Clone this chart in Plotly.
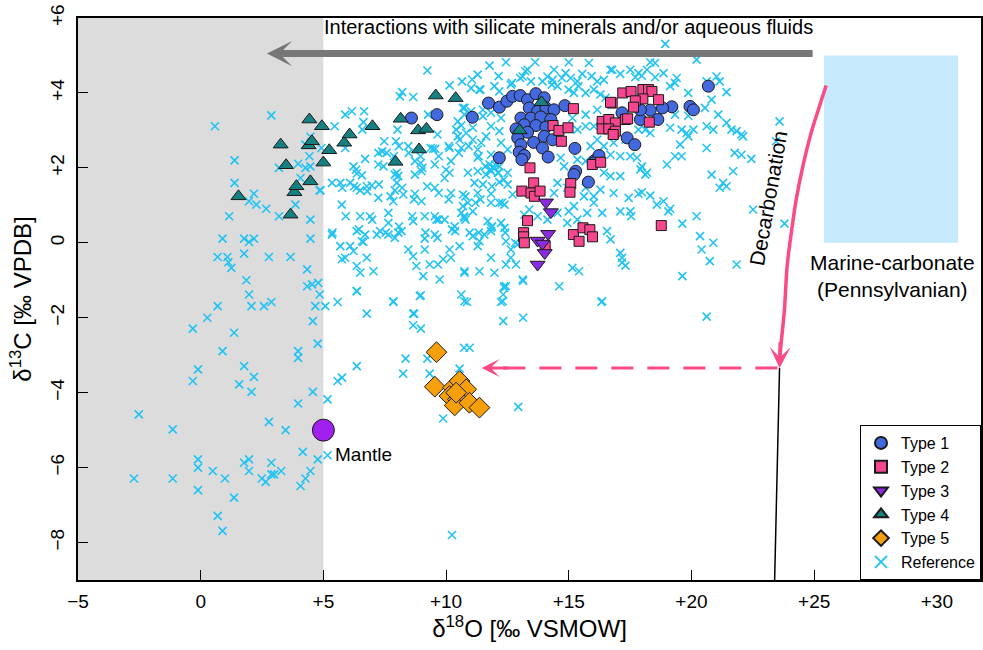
import plotly.graph_objects as go

# ---------------- data ----------------
type1_x = [11.73, 11.07, 12.17, 12.48, 12.71, 13.02, 13.32, 13.66, 14.0, 13.39, 13.73, 14.07, 14.4, 14.84,
           13.05, 13.46, 13.86, 14.27, 13.19, 13.66, 14.07, 12.85, 13.32, 14.0, 14.34, 12.92, 13.05, 13.57,
           13.93, 12.98, 13.19, 13.09, 14.16, 12.17, 15.25, 16.06, 16.23, 15.28, 15.21, 8.59, 9.63, 15.8,
           16.02, 20.69, 19.94, 20.08, 19.2, 18.82, 18.32, 18.63, 17.92, 17.38, 17.69, 17.17, 17.92]
type1_y = [3.73, 3.35, 3.62, 3.78, 3.91, 3.93, 3.82, 3.98, 3.87, 3.6, 3.51, 3.6, 3.55, 3.66,
           3.33, 3.33, 3.36, 3.29, 3.15, 3.13, 3.09, 3.04, 2.95, 2.84, 2.75, 2.8, 2.62, 2.68,
           2.53, 2.42, 2.33, 2.22, 2.29, 2.27, 2.52, 2.2, 2.33, 1.91, 1.82, 3.33, 3.42, 1.62,
           2.13, 4.18, 3.64, 3.55, 3.63, 3.6, 3.54, 3.29, 3.29, 2.8, 2.62, 3.47, 3.55]

type2_x = [15.19, 14.36, 14.6, 14.97, 14.7, 13.42, 17.2, 16.77, 16.36, 16.63, 16.9, 16.36, 16.63, 16.83,
           15.96, 16.3, 17.31, 17.54, 18.02, 18.25, 18.39, 18.02, 17.71, 18.66, 17.64, 17.4, 18.28,
           13.57, 13.09, 13.46, 13.6, 13.83, 15.08, 15.05, 13.32, 13.16, 13.16, 13.19, 15.19, 15.42,
           15.58, 15.86, 15.97, 18.77, 16.7, 16.9, 16.81, 14.04]
type2_y = [3.58, 3.13, 3.0, 3.07, 2.71, 2.0, 4.0, 3.73, 3.24, 3.29, 3.2, 3.04, 3.04, 2.91,
           2.09, 2.15, 3.29, 4.04, 4.09, 4.09, 4.04, 3.84, 3.79, 3.82, 3.62, 3.31, 3.22,
           1.6, 1.38, 1.33, 1.24, 1.38, 1.58, 1.35, 0.59, 0.27, 0.16, 0.0, 0.22, 0.04,
           0.4, 0.35, 0.16, 0.46, 3.75, 2.98, 2.89, -0.09]

type3_x = [14.07, 14.27, 14.16, 13.73, 13.93, 14.02, 13.73]
type3_y = [1.08, 0.82, 0.24, 0.06, -0.02, -0.27, -0.58]

type4_x = [1.54, 3.26, 3.48, 3.66, 3.82, 3.9, 4.43, 4.4, 4.53, 4.47, 4.94, 5.0, 5.24, 5.85, 6.07,
           7.0, 7.94, 8.15, 8.86, 8.9, 9.2, 9.58, 10.39, 13.0, 13.89]
type4_y = [1.24, 2.62, 2.07, 0.75, 1.35, 1.51, 3.29, 2.6, 2.71, 1.64, 3.11, 2.14, 2.47, 2.67, 2.89,
           3.11, 2.16, 3.31, 3.0, 2.49, 3.04, 3.93, 3.86, 3.0, 3.75]

type5_x = [9.61, 9.54, 10.28, 10.55, 10.82, 10.14, 10.48, 10.35, 10.95, 11.36, 10.41]
type5_y = [-2.92, -3.84, -3.87, -3.69, -3.91, -4.09, -4.18, -4.34, -4.27, -4.4, -4.0]

ref_x = [
    # shaded field (< +5)
    0.58, 2.88, 1.38, 1.38, 2.17, 1.97, 2.27, 2.67, 1.16, 3.19, 0.89, 1.77, 2.17, 1.97, 0.69, 1.09, 1.13,
    1.25, 1.77, 2.78, 3.66, 4.47, 4.47, 3.86, 4.85, 4.47, 4.43, 3.97, 4.27, 4.07, 4.47, 4.27, 4.92, 3.19,
    1.86, 1.97, 4.34, 4.79, 4.54, 4.85, 2.07, 2.58, 2.88, 0.69, 0.27, -0.32, 1.36, 0.89, 3.97, 3.97, 4.57,
    4.67, 4.77, -0.11, -0.32, 1.77, 2.17, 1.57, 2.07, 4.57, 3.97, -2.52, -1.14, 2.78, 3.46, 4.16, 4.77,
    -0.11, -0.11, 1.77, 1.97, 1.97, 2.88, 0.49, -2.72, -1.14, 0.99, 2.49, 2.65, 2.88, 2.99, 3.28, 4.47,
    4.27, 4.07, -0.11, 1.36, 0.69, 0.89, 4.34,
    # lower right of +5
    5.17, 5.17, 5.58, 6.36, 6.77, 5.08, 7.85, 8.66, 8.7, 8.66, 8.97, 8.97, 10.62, 10.85, 8.35, 9.24, 8.25,
    9.33, 6.36, 5.58, 5.76, 10.55, 10.73, 10.96, 9.88, 10.24, 12.37, 12.44, 12.33, 12.24, 12.33, 13.14,
    13.14, 14.61, 16.33, 20.62, 12.94,
    # upper left-centre
    9.24, 10.14, 10.65, 8.21, 8.66, 8.12, 10.69, 5.89, 6.16, 6.66, 5.46, 6.63, 6.59, 8.02, 9.27, 9.65,
    10.48, 10.41, 10.62, 10.48, 10.55, 10.14, 10.62, 7.48, 7.58, 7.24, 7.96, 8.46, 9.47, 9.56, 8.73, 8.97,
    9.03, 9.54, 10.2, 10.0, 6.7, 7.24, 7.45, 6.23, 6.33, 5.89, 7.99,
    # centre-left
    5.35, 5.69, 6.09, 4.88, 6.36, 6.77, 6.97, 6.5, 6.36, 6.57, 7.24, 7.91, 8.05, 7.99, 7.91, 7.85, 8.26,
    8.73, 9.0, 8.73, 9.0, 9.54, 9.94, 10.14, 10.2, 5.75, 6.5, 6.9, 7.65, 7.65, 8.66, 9.13, 9.54, 9.61,
    9.94, 10.35, 10.37, 10.69, 10.73, 5.35, 6.36, 6.7, 6.57, 6.63, 7.31, 7.18, 7.65, 8.05, 8.19, 7.91,
    9.13, 9.54, 9.65, 5.69, 6.09, 6.23, 5.89, 5.75, 6.77, 6.36, 6.5, 7.04, 6.36, 8.46, 8.66, 8.79, 9.13,
    9.33, 9.67, 9.88, 9.07, 9.74, 10.14, 10.2, 10.75, 8.93, 7.85,
    # upper centre
    12.44, 13.63, 11.77, 13.32, 14.4, 15.0, 15.82, 16.7, 17.1, 11.29, 13.12, 14.13, 14.34, 14.87, 15.08,
    15.55, 15.35, 16.16, 16.43, 11.02, 11.36, 11.97, 12.17, 12.64, 14.54, 15.0, 15.21, 15.69, 16.02,
    16.29, 16.5, 10.75, 11.02, 10.75, 11.5, 11.5, 11.83, 12.24, 15.15, 15.69, 16.16, 15.69, 15.35, 16.02,
    11.09, 10.82, 11.83, 12.17, 11.63, 11.09, 11.43, 11.29, 12.24, 12.51, 11.83, 11.29, 11.77, 11.97,
    12.17, 15.89, 16.16, 16.43, 16.7, 17.1, 15.35, 15.69, 14.67, 14.81, 16.83, 17.31,
    13.02, 13.46, 13.93, 16.77, 17.51, 17.84, 18.19,
    # upper right
    18.93, 20.21, 18.32, 18.52, 17.71, 17.98, 18.52, 18.86, 19.4, 19.33, 19.13, 21.02, 21.15, 20.62, 21.43,
    19.87, 20.82, 20.55, 21.09, 19.33, 19.87, 21.43, 21.63, 21.84, 22.1, 22.04, 20.62, 20.89, 19.13, 19.6,
    19.8, 20.08, 19.87, 19.54, 17.84, 18.12, 18.32, 20.62, 19.33, 19.6, 21.76, 22.04, 22.44, 17.51, 17.78,
    19.0, 17.98, 18.19, 21.7, 20.82, 23.59,
    23.45, 21.29, 21.43, 22.51, 23.79, 20.35, 20.41, 20.89, 20.75, 21.84,
    18.12, 17.92, 21.15, 17.44, 17.84, 17.98, 18.32, 18.59, 18.86, 19.06, 19.13, 17.1, 17.51, 17.54, 19.63,
    20.21, 19.63, 17.1, 17.17, 17.31,
    # centre
    10.89, 11.29, 11.63, 11.83, 12.11, 12.51, 11.16, 11.5, 12.17, 12.51, 10.69, 11.29, 11.83, 12.71, 11.83,
    12.17, 12.38, 10.89, 10.62, 11.09, 10.75, 11.7, 12.24, 12.38, 11.83, 11.83, 10.96, 11.09, 11.56, 11.36,
    11.29, 10.55, 12.44, 12.64, 11.83, 12.64, 12.44, 12.85, 10.75, 11.36, 11.97, 13.19, 13.39, 13.73, 14.13,
    12.92, 13.12, 14.54, 14.94, 15.35, 15.75, 16.02, 16.36, 15.62, 16.02, 16.29, 16.83, 16.56, 16.7, 17.17,
    15.15, 15.42, 12.37, 10.75, 12.31, 16.36, 14.54, 14.94, 14.4, 15.69, 16.43, 16.7, 17.1, 15.21, 15.0,
    # extra dense band
    11.6, 11.8, 12.0, 12.14, 12.35, 11.87, 11.4, 12.28,
    7.4, 7.87, 8.08, 8.48, 8.96, 9.37, 9.7, 10.11, 10.52, 10.92, 11.33,
    5.77, 6.25, 6.79, 7.26, 7.74, 8.21, 8.69, 9.23, 9.7, 10.11, 10.79, 11.2,
    5.37, 5.91, 6.45, 6.99, 7.54, 8.08, 8.62, 9.16, 9.7, 10.24, 10.79, 11.33, 11.87, 12.41, 12.82,
    11.06, 11.4, 12.14, 12.68, 13.23, 14.31, 14.72, 15.39, 15.93,
]
ref_y = [
    3.11, 3.4, 2.2, 1.6, 1.31, 1.11, 1.02, 0.91, 0.71, 0.71, 0.11, 0.11, 0.11, 0.02, -0.38, -0.38, -0.52,
    -0.67, -0.29, -0.38, -0.38, 0.11, 0.62, 1.02, 1.4, 2.04, 2.31, 2.11, 2.0, 1.73, 2.83, 2.62, 2.53, 2.0,
    -1.0, -1.38, -1.16, -1.07, -1.11, -1.38, -1.69, -1.69, -1.58, -1.69, -2.0, -2.29, -2.4, -2.89, -2.89,
    -3.07, -2.09, -1.69, -2.69, -3.38, -3.69, -3.29, -3.58, -3.78, -3.98, -3.98, -4.29, -4.58, -4.98, -4.78,
    -5.0, -5.58, -5.78, -5.78, -6.0, -5.87, -5.78, -6.09, -5.87, -6.09, -6.29, -6.29, -6.29, -6.29, -6.38,
    -6.18, -6.18, -6.09, -6.09, -6.29, -6.49, -6.6, -6.8, -7.29, -7.69, -0.71,
    -5.67, -4.18, -1.58, -1.29, -1.89, -1.69, -1.58, -1.89, -1.89, -2.2, -2.29, -1.4, -1.38, -1.58, -3.09,
    -3.09, -3.49, -3.49, -3.29, -3.69, -3.6, -3.36, -2.8, -2.8, -4.69, -7.8, -1.16, -1.16, -1.38, -1.58,
    -2.09, -2.0, -1.02, -1.16, -1.58, -1.97, -4.38,
    4.6, 4.2, 4.31, 4.02, 3.89, 3.91, 3.6, 3.42, 3.51, 3.51, 3.11, 3.22, 3.02, 3.02, 3.42, 2.89,
    3.24, 3.02, 3.13, 2.84, 2.75, 2.53, 2.53, 2.71, 2.4, 2.4, 2.71, 2.58, 2.51, 2.51, 2.18, 2.13,
    2.0, 2.09, 2.18, 1.95, 2.24, 2.09, 2.04, 2.04, 1.95, 2.53, 1.87,
    1.6, 1.6, 1.6, 1.4, 1.47, 1.51, 1.53, 1.4, 1.85, 1.8, 1.2, 1.82, 1.78, 1.6, 1.4, 1.11, 1.29,
    1.82, 1.91, 1.31, 1.11, 1.47, 1.73, 1.87, 1.33, 1.02, 0.71, 0.71, 0.8, 0.53, 0.58, 0.71, 0.71, 0.62,
    0.62, 0.44, 0.31, 0.98, 0.71, 0.22, 0.31, 0.22, 0.04, 0.02, 0.31, 0.22, 0.22, 0.27, 0.31, 0.13,
    0.11, 0.22, 0.13, -0.09, -0.09, -0.22, -0.4, -0.44, -0.4, -0.62, -0.8, -0.76, -1.29, -0.18, -0.36, -0.62, -0.18,
    -0.58, -0.58, -0.44, -0.89, -0.98, -0.18, -0.4, -0.76, -1.42, -1.56,
    4.82, 4.82, 4.73, 4.62, 4.62, 4.82, 4.8, 4.62, 4.51, 4.49, 4.44, 4.44, 4.35, 4.53, 4.4,
    4.51, 4.31, 4.31, 4.35, 4.13, 4.09, 4.18, 4.04, 4.22, 4.18, 4.09, 4.0, 4.0, 4.09,
    3.96, 3.87, 3.6, 3.51, 3.42, 3.55, 3.38, 3.47, 3.33, 3.33, 3.42, 3.55, 3.11, 3.02, 3.11,
    3.07, 2.93, 3.11, 2.98, 2.84, 2.75, 2.67, 2.49, 2.67, 2.49, 2.35, 2.27, 2.09, 2.0,
    2.04, 2.58, 2.75, 2.58, 2.35, 2.31, 2.22, 2.18, 2.27, 2.04, 2.67, 2.75,
    4.4, 4.31, 4.31, 4.62, 4.62, 4.53, 4.62,
    5.31, 4.89, 4.82, 4.8, 4.42, 4.46, 4.42, 4.53, 4.4, 4.27, 4.18, 4.44, 4.31, 4.31, 4.02,
    4.0, 3.82, 3.6, 3.42, 3.42, 3.39, 3.2, 3.02, 2.98, 2.84, 2.89, 3.11, 3.02, 3.07, 3.02,
    2.93, 3.02, 2.84, 2.62, 3.02, 3.02, 2.93, 2.53, 2.31, 2.31, 2.4, 2.35, 2.24, 2.31, 2.27,
    2.09, 2.04, 1.87, 1.91, 1.82, 3.24,
    2.71, 1.6, 1.51, 0.89, 0.51, 0.18, -0.18, 0.0, -0.49, -0.58,
    1.82, 1.96, 1.47, 1.2, 1.31, 1.35, 1.26, 1.02, 1.11, 0.84, 0.91, 0.84, 0.84, 0.71, 0.51,
    0.71, -0.89, -0.27, -0.53, -0.61,
    1.87, 1.91, 1.82, 1.91, 1.87, 1.87, 1.6, 1.56, 1.62, 1.56, 1.29, 1.33, 1.31, 1.29, 1.07,
    1.07, 1.02, 1.07, 0.8, 0.84, 0.67, 0.58, 0.53, 0.4, 0.4, 0.31, 0.27, 0.18, 0.22, 0.04,
    -0.09, -0.09, 0.04, -0.18, -0.4, -0.4, -0.58, -0.58, -0.8, -0.76, -0.8, 0.75, 0.89, 0.71, 0.62,
    -0.04, -0.98, 0.8, 0.53, 0.62, 0.8, 1.07, 0.8, 1.24, 1.24, 1.42, 1.33, 0.31, 0.09, -0.4,
    -0.67, -0.76, -1.2, -1.56, -1.56, -1.56, 1.6, 1.47, 1.33, 1.47, 1.87, 1.78, 1.78, 0.98, 0.84,
    2.04, 1.96, 2.09, 1.87, 1.69, 1.51, 1.16, 1.07,
    2.44, 2.31, 2.58, 2.4, 2.31, 2.53, 2.31, 2.58, 2.4, 2.58, 2.31,
    1.47, 1.51, 1.38, 1.56, 1.24, 1.47, 1.16, 1.51, 1.33, 1.16, 1.24, 1.07,
    0.27, 0.71, 0.36, 0.62, 0.27, 0.44, 0.71, 0.27, 0.62, 0.36, 0.62, 0.27, 0.44, 0.27, 0.0,
    4.36, 4.09, 4.45, 4.27, 4.58, 4.22, 4.4, 4.18, 4.45,
]

mantle_x = [5.0]
mantle_y = [-5.0]

x_tickvals = [-5, 0, 5, 10, 15, 20, 25, 30]
x_ticktext = ["\u22125", "0", "+5", "+10", "+15", "+20", "+25", "+30"]
y_tickvals = [6, 4, 2, 0, -2, -4, -6, -8]
y_ticktext = ["+6", "+4", "+2", "0", "\u22122", "\u22124", "\u22126", "\u22128"]

# decorative guide paths (schematic)
decarb_x = [25.49, 25.22, 24.88, 24.54, 24.27, 24.07, 23.9, 23.79, 23.67, 23.61]
decarb_y = [4.2, 3.65, 2.94, 2.04, 1.16, 0.27, -0.62, -1.78, -2.58, -3.0]
trend_x = [23.59, 23.39]
trend_y = [-3.34, -9.0]
dash_x = [23.5, 12.2]
dash_y = [-3.34, -3.34]

FONT = "Liberation Sans, Arial, sans-serif"
PINK = "#fb4b87"
REF = "#22c3f3"
EDGE = "#1a1a1a"

fig = go.Figure()

fig.add_trace(go.Scatter(x=ref_x, y=ref_y, mode="markers", name="Reference", legendrank=6,
                         marker=dict(symbol="x-thin", size=8, line=dict(color=REF, width=1.6), color=REF)))

fig.add_trace(go.Scatter(x=decarb_x, y=decarb_y, mode="lines", showlegend=False, hoverinfo="skip",
                         line=dict(color=PINK, width=3.5, shape="spline")))
fig.add_trace(go.Scatter(x=trend_x, y=trend_y, mode="lines", showlegend=False, hoverinfo="skip",
                         line=dict(color="black", width=1.5)))
fig.add_trace(go.Scatter(x=dash_x, y=dash_y, mode="lines", showlegend=False, hoverinfo="skip",
                         line=dict(color=PINK, width=3, dash="22px,14px")))

fig.add_trace(go.Scatter(x=type1_x, y=type1_y, mode="markers", name="Type 1", legendrank=1,
                         marker=dict(symbol="circle", size=12, color="#4468de", line=dict(color=EDGE, width=1))))
fig.add_trace(go.Scatter(x=type2_x, y=type2_y, mode="markers", name="Type 2", legendrank=2,
                         marker=dict(symbol="square", size=10, color="#f5468e", line=dict(color=EDGE, width=1))))
fig.add_trace(go.Scatter(x=type3_x, y=type3_y, mode="markers", name="Type 3", legendrank=3,
                         marker=dict(symbol="triangle-down", size=13, color="#8a2be2", line=dict(color=EDGE, width=1))))
fig.add_trace(go.Scatter(x=type4_x, y=type4_y, mode="markers", name="Type 4", legendrank=4,
                         marker=dict(symbol="triangle-up", size=13, color="#168080", line=dict(color=EDGE, width=1))))
fig.add_trace(go.Scatter(x=type5_x, y=type5_y, mode="markers", name="Type 5", legendrank=5,
                         marker=dict(symbol="diamond", size=16, color="#f5a00a", line=dict(color=EDGE, width=1))))
fig.add_trace(go.Scatter(x=mantle_x, y=mantle_y, mode="markers", showlegend=False,
                         marker=dict(symbol="circle", size=22, color="#a020f0", line=dict(color=EDGE, width=1))))

shapes = [
    dict(type="rect", xref="x", yref="y", x0=-5, x1=5, y0=-9, y1=6, fillcolor="#dcdcdc",
         line=dict(width=0), layer="below"),
    dict(type="rect", xref="x", yref="y", x0=25.4, x1=30.87, y0=0.0, y1=5.0, fillcolor="#c6eafb",
         line=dict(width=0), layer="below"),
]

annotations = [
    dict(x=2.7, y=5.05, ax=25.0, ay=5.05, xref="x", yref="y", axref="x", ayref="y", text="",
         showarrow=True, arrowhead=3, arrowsize=0.6, arrowwidth=7, arrowcolor="#777777"),
    dict(x=23.59, y=-3.34, ax=23.62, ay=-2.6, xref="x", yref="y", axref="x", ayref="y", text="",
         showarrow=True, arrowhead=3, arrowsize=1.0, arrowwidth=3.5, arrowcolor=PINK),
    dict(x=11.45, y=-3.34, ax=12.6, ay=-3.34, xref="x", yref="y", axref="x", ayref="y", text="",
         showarrow=True, arrowhead=3, arrowsize=1.0, arrowwidth=3, arrowcolor=PINK),
    dict(x=15.0, y=5.75, xref="x", yref="y", text="Interactions with silicate minerals and/or aqueous fluids",
         showarrow=False, font=dict(family=FONT, size=20, color="black")),
    dict(x=23.15, y=1.2, xref="x", yref="y", text="Decarbonation", textangle=-80,
         showarrow=False, font=dict(family=FONT, size=21, color="black")),
    dict(x=28.2, y=-0.88, xref="x", yref="y", text="Marine-carbonate<br>(Pennsylvanian)",
         showarrow=False, font=dict(family=FONT, size=21, color="black")),
    dict(x=5.4, y=-5.65, xref="x", yref="y", text="Mantle", xanchor="left",
         showarrow=False, font=dict(family=FONT, size=19, color="black")),
]

fig.update_layout(
    width=983, height=650,
    margin=dict(l=78, r=0, t=18, b=70),
    paper_bgcolor="white", plot_bgcolor="white",
    font=dict(family=FONT, color="black"),
    shapes=shapes, annotations=annotations,
    showlegend=True,
    legend=dict(x=1, y=0, xanchor="right", yanchor="bottom", bgcolor="white",
                bordercolor="black", borderwidth=1, font=dict(family=FONT, size=16),
                tracegroupgap=0, itemwidth=30, itemsizing="constant"),
)

fig.update_xaxes(range=[-5, 31.8], showgrid=False, zeroline=False,
                 showline=True, linecolor="black", linewidth=1.5, mirror=True,
                 ticks="inside", ticklen=10, tickwidth=1.2, tickcolor="black",
                 tickvals=x_tickvals, ticktext=x_ticktext, tickfont=dict(family=FONT, size=19),
                 ticklabelstandoff=3,
                 title=dict(text="\u03b4<sup>18</sup>O [\u2030 VSMOW]", font=dict(family=FONT, size=24), standoff=8))
fig.update_yaxes(range=[-9, 6], showgrid=False, zeroline=False,
                 showline=True, linecolor="black", linewidth=1.5, mirror=True,
                 ticks="inside", ticklen=10, tickwidth=1.2, tickcolor="black",
                 tickvals=y_tickvals, ticktext=y_ticktext, tickfont=dict(family=FONT, size=19),
                 tickangle=-90, ticklabelstandoff=5,
                 title=dict(text="\u03b4<sup>13</sup>C [\u2030 VPDB]", font=dict(family=FONT, size=24), standoff=8))

fig.write_html("out.html")
